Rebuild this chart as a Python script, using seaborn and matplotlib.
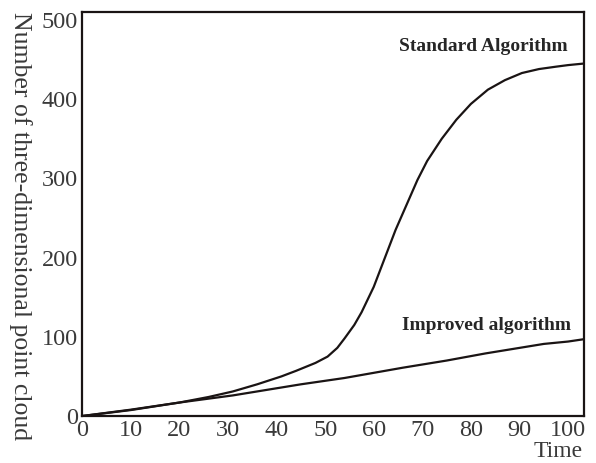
import numpy as np
import pandas as pd
import matplotlib
matplotlib.use("Agg")
import matplotlib.pyplot as plt
import seaborn as sns

# values
std_time = [0, 10, 20, 26, 31, 36, 41, 44, 48, 50.5, 52.5, 54, 56, 57.5, 60, 62, 64.5, 67, 69, 71,
            74, 77, 80, 83.5, 87, 90.5, 94, 97.5, 100, 103.3]
std_count = [0, 7.5, 17, 24, 31, 40, 50, 57, 67, 75, 86, 98, 115, 131, 163, 195, 235, 270, 298, 322,
             350, 374, 394, 412, 424, 433, 438, 441, 443, 445]
imp_time = [0, 10, 20, 31, 41, 45, 54, 66, 75, 83, 90, 95, 100, 103.3]
imp_count = [0, 8, 17, 26, 36, 40, 48, 61, 70, 79, 86, 91, 94, 97]

df = pd.DataFrame({"Time": std_time + imp_time,
                   "Count": std_count + imp_count,
                   "Method": ["Standard Algorithm"] * len(std_time) + ["Improved algorithm"] * len(imp_time)})

sns.set_style("white")
plt.rcParams["font.family"] = ["Liberation Serif", "DejaVu Serif"]

fig, ax = plt.subplots(figsize=(5.96, 4.63), dpi=100)
sns.lineplot(data=df, x="Time", y="Count", hue="Method", palette=["#1a1414", "#1a1414"],
             linewidth=1.6, legend=False, sort=False, estimator=None, ax=ax)

ax.set_xlim(0, 103.3)
ax.set_ylim(0, 510)
ax.set_xticks(range(0, 101, 10))
ax.set_yticks(range(0, 501, 100))
ax.tick_params(axis="x", length=0, labelsize=17.5, colors="#3a3a3a", pad=3)
ax.tick_params(axis="y", length=0, labelsize=17.5, colors="#3a3a3a", pad=3)
for s in ax.spines.values():
    s.set_linewidth(1.6)
    s.set_color("#1a1414")

ax.set_xlabel("")
ax.set_ylabel("")
fig.text(20 / 596, 1 - 226 / 463, "Number of three-dimensional point cloud", rotation=-90,
         ha="center", va="center", fontsize=18.5, color="#3a3a3a")
fig.text(583 / 596, 1 - 457 / 463, "Time", ha="right", va="baseline",
         fontsize=17, color="#3a3a3a")

ax.text(82.6, 467, "Standard Algorithm", ha="center", va="center", fontsize=14, fontweight="bold")
ax.text(83.2, 114, "Improved algorithm", ha="center", va="center", fontsize=14, fontweight="bold")

fig.subplots_adjust(left=0.138, right=0.98, top=0.974, bottom=0.1015)
fig.savefig("out.png", dpi=100)
